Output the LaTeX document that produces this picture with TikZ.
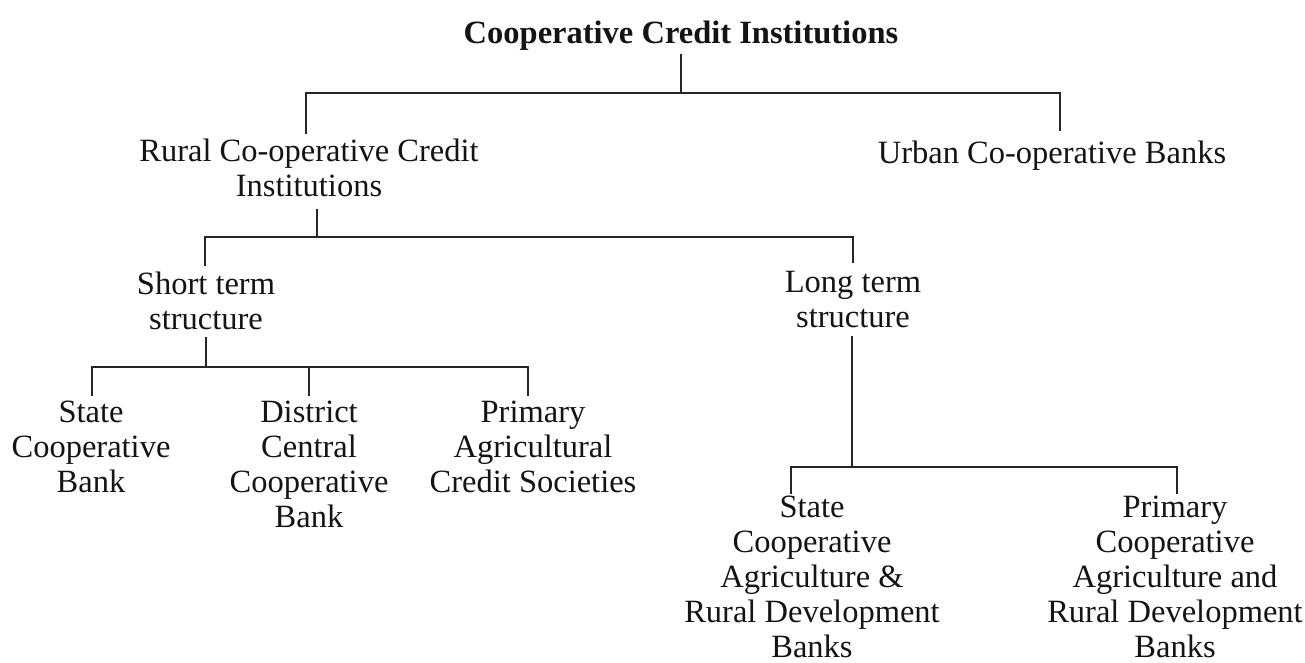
\documentclass[tikz,border=0pt]{standalone}
\usepackage{fontspec}
\setmainfont{Liberation Serif}
\usetikzlibrary{calc}

\tikzset{
  lbl/.style={
    inner sep=0pt, anchor=north, align=center,
    text=black!92,
    font=\fontsize{32.5}{35}\selectfont,
    execute at begin node=\strut,
    execute at end node=\strut
  },
  link/.style={draw=black!85, line width=2.2pt, line cap=rect}
}

\begin{document}
\begin{tikzpicture}[x=1pt, y=-1pt]
  \useasboundingbox[fill=white] (0,0) rectangle (1305,663);

  % labels (north = first baseline - 24.5)
  \node[lbl, font=\fontsize{32.5}{35}\selectfont\bfseries] (root) at (681,18.5) {Cooperative Credit Institutions};
  \node[lbl] (rural) at (309,138.5) {Rural Co-operative Credit\\Institutions};
  \node[lbl] (urban) at (1052,138.5) {Urban Co-operative Banks};
  \node[lbl] (short) at (206,271.5) {Short term\\structure};
  \node[lbl] (long)  at (853,271.5) {Long term\\structure};
  \node[lbl] (scb)   at (91,400.5)  {State\\Cooperative\\Bank};
  \node[lbl] (dccb)  at (309,400.5) {District\\Central\\Cooperative\\Bank};
  \node[lbl] (pacs)  at (533,400.5) {Primary\\Agricultural\\Credit Societies};
  \node[lbl] (scard) at (812,495.5) {State\\Cooperative\\Agriculture \&\\Rural Development\\Banks};
  \node[lbl] (pcard) at (1175,495.5) {Primary\\Cooperative\\Agriculture and\\Rural Development\\Banks};

  % branching points of the tree
  \coordinate (b0) at (681,93);
  \coordinate (b1) at (317,237);
  \coordinate (b2) at (206,367);
  \coordinate (b3) at (852,467);

  % top level
  \draw[link] ([yshift=-1.5pt]root.south) -- (b0);
  \draw[link] (b0) -| ([shift={(-3,-5.5)}]rural.north);
  \draw[link] (b0) -| ([shift={(8,-8.5)}]urban.north);

  % rural institutions
  \draw[link] ([yshift=-3.5pt]rural.south -| b1) -- (b1);
  \draw[link] (b1) -| ([shift={(-1,-6.5)}]short.north);
  \draw[link] (b1) -| ([shift={(0,-9.5)}]long.north);

  % short term structure
  \draw[link] ([yshift=2pt]short.south -| b2) -- (b2);
  \draw[link] (b2) -| ([shift={(1,-5.5)}]scb.north);
  \draw[link] (b2) -| ([shift={(0,-5.5)}]dccb.north);
  \draw[link] (b2) -| ([shift={(-5,-5.5)}]pacs.north);

  % long term structure
  \draw[link] ([yshift=1.5pt]long.south -| b3) -- (b3);
  \draw[link] (b3) -| ([shift={(-21,-2.5)}]scard.north);
  \draw[link] (b3) -| ([shift={(2,-2.5)}]pcard.north);
\end{tikzpicture}
\end{document}
